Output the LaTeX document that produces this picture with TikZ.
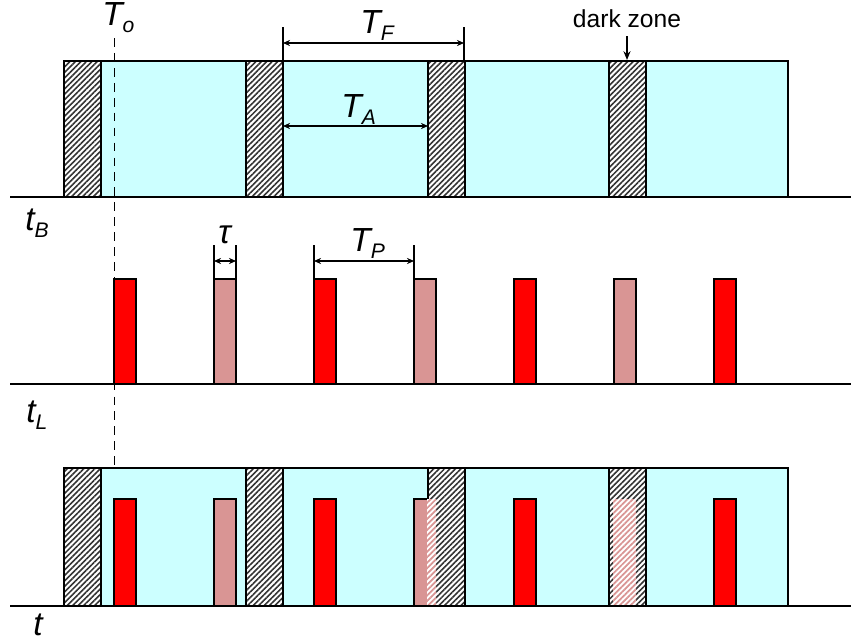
\documentclass[tikz,border=0pt]{standalone}
\usepackage{fontspec}
\setmainfont{Liberation Sans}
\usetikzlibrary{arrows.meta, patterns.meta}
\definecolor{cielo}{HTML}{CCFFFF}
\definecolor{rosa}{HTML}{D99594}
\definecolor{rojo}{HTML}{FF0000}
\newcommand{\simb}[2]{#1\raisebox{-0.4ex}{\fontsize{12}{14}\selectfont #2}}
\tikzset{
  every picture/.style={>=Stealth},
  eje/.style={line width=1.6pt},
  franja/.style={draw, line width=1pt, fill=cielo},
  oscura/.style={draw, line width=1pt, preaction={fill=white},
                 preaction={pattern={Lines[angle=45, distance=2.2pt, line width=0.9pt]}, pattern color=black!80}},
  velado/.style={fill=white, postaction={pattern={Lines[angle=45, distance=2.2pt, line width=1pt]}, pattern color=rosa}},
  pulso/.style={draw, line width=1pt, fill=rojo},
  eco/.style={draw, line width=1pt, fill=rosa},
  cota/.style={{Stealth[length=4pt, width=3.5pt]}-{Stealth[length=4pt, width=3.5pt]}, line width=0.8pt},
  guia/.style={line width=0.8pt},
  etiq/.style={inner sep=0, anchor=base west, font=\fontsize{19}{22}\selectfont\itshape},
}

\begin{document}
\begin{tikzpicture}[x=0.2mm, y=-0.2mm]
  \useasboundingbox (0,0) rectangle (851,640);
  % fila superior: tramas con zonas oscuras
  \draw[franja] (101,61) rectangle (788,197);
  \foreach \x in {64,246,428,609} \draw[oscura] (\x,61) rectangle ++(37,136);
  % fila central: pulsos
  \foreach \x in {114,314,514,714} \draw[pulso] (\x,279) rectangle ++(22,105);
  \foreach \x in {214,414,614} \draw[eco] (\x,279) rectangle ++(22,105);
  % fila inferior: superpuesta
  \draw[franja] (101,468) rectangle (788,606);
  \foreach \x in {114,314,514,714} \draw[pulso] (\x,499) rectangle ++(22,107);
  \foreach \x in {214,414} \draw[eco] (\x,499) rectangle ++(22,107);
  \foreach \x in {64,246,428,609} \draw[oscura] (\x,468) rectangle ++(37,138);
  \fill[velado] (427,499) rectangle (436,605);
  \fill[velado] (613,499) rectangle (636,605);
  % ejes
  \draw[eje] (10,197) -- (851,197);
  \draw[eje] (10,384) -- (851,384);
  \draw[eje] (10,606) -- (851,606);
  % instante inicial
  \coordinate (o1) at (114.5,38);
  \coordinate (o2) at (114.5,468);
  \draw[line width=1pt, dash pattern=on 5pt off 3.5pt] (o1) -- (o2);
  % cotas
  \coordinate (f1) at (283,43); \coordinate (f2) at (464,43);
  \coordinate (a1) at (283,126); \coordinate (a2) at (428,126);
  \coordinate (u1) at (214,261); \coordinate (u2) at (236,261);
  \coordinate (p1) at (314,261); \coordinate (p2) at (414,261);
  \draw[guia] (283,27) -- (283,61) (464,27) -- (464,61);
  \draw[guia] (214,245) -- (214,279) (236,245) -- (236,279);
  \draw[guia] (314,245) -- (314,279) (414,245) -- (414,279);
  \draw[cota] (f1) -- (f2);
  \draw[cota] (a1) -- (a2);
  \draw[cota] (u1) -- (u2);
  \draw[cota] (p1) -- (p2);
  \node[font=\fontsize{14}{16}\selectfont, anchor=base] (dz) at (627,27) {dark zone};
  \coordinate (dzp) at (627,60);
  \draw[-{Stealth[length=5pt, width=4pt]}, line width=1.2pt] (627,36) -- (dzp);
  % etiquetas
  \node[etiq] (to) at (102,25) {\simb{T}{o}};
  \node[etiq] (tf) at (360,33) {\simb{T}{F}};
  \node[etiq] (ta) at (341,117) {\simb{T}{A}};
  \node[etiq] (tau) at (218,243) {τ};
  \node[etiq] (tp) at (350,251) {\simb{T}{P}};
  \node[etiq] (tb) at (25,230) {\simb{t}{B}};
  \node[etiq] (tl) at (26,422) {\simb{t}{L}};
  \node[etiq] (tt) at (33,635) {t};
\end{tikzpicture}
\end{document}
